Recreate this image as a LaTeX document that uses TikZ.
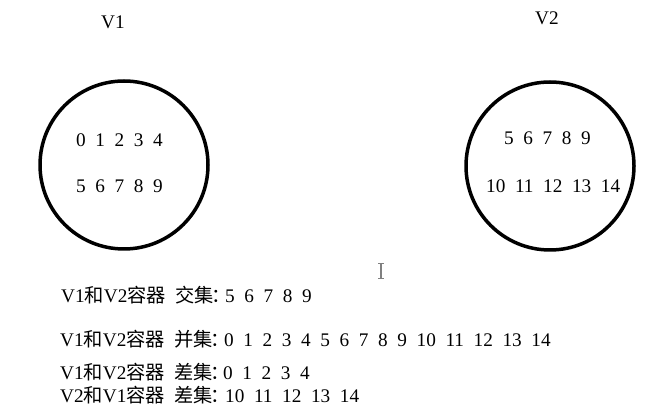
\documentclass[tikz,border=0pt]{standalone}
\usepackage{fontspec}
\setmainfont[WordSpace=2]{Liberation Serif}
\newfontfamily\cjk{Noto Sans CJK SC}
\def\zh#1{{\cjk #1}}
\def\cap#1#2#3{#1\zh{和}#2\zh{容器}\hspace{0.5em}\zh{#3}\kern-0.15em\zh{：}}
\def\txt{\fontsize{19.25}{19.25}\selectfont}
\tikzset{
  ring/.style={draw, circle, line width=3.5pt, minimum size=168pt, inner sep=0pt},
  nums/.style={anchor=base west, inner sep=0pt, font=\txt},
  lbl/.style={anchor=base, inner sep=0pt, font=\txt},
}

\begin{document}
\begin{tikzpicture}[x=1pt, y=-1pt]
  \useasboundingbox (0,0) rectangle (666,419);
  % the two sets
  \node[ring] (set1) at (124,165) {};
  \node[ring] (set2) at (550,166) {};
  \node[lbl] (name1) at (113,29) {V1};
  \node[lbl] (name2) at (547,25) {V2};
  \node[nums] (v1a) at (76,147) {0 1 2 3 4};
  \node[nums] (v1b) at (76,193) {5 6 7 8 9};
  \node[nums] (v2a) at (504,145) {5 6 7 8 9};
  \node[nums] (v2b) at (486,193) {10 11 12 13 14};
  % text cursor
  \draw[gray, line width=1.2pt] (381,264) -- (381,279);
  \draw[gray, line width=1pt] (378,264) -- (384,264) (378,279) -- (384,279);
  % results
  \node[nums] (inter) at (61,303) {\cap{V1}{V2}{交集}};
  \node[nums] (interv) at (225,303) {5 6 7 8 9};
  \node[nums] (union) at (60,346) {\cap{V1}{V2}{并集}};
  \node[nums] (unionv) at (224,346) {0 1 2 3 4 5 6 7 8 9 10 11 12 13 14};
  \node[nums] (diff1) at (60,379) {\cap{V1}{V2}{差集}};
  \node[nums] (diff1v) at (223,379) {0 1 2 3 4};
  \node[nums] (diff2) at (60,402) {\cap{V2}{V1}{差集}};
  \node[nums] (diff2v) at (225,402) {10 11 12 13 14};
\end{tikzpicture}
\end{document}
